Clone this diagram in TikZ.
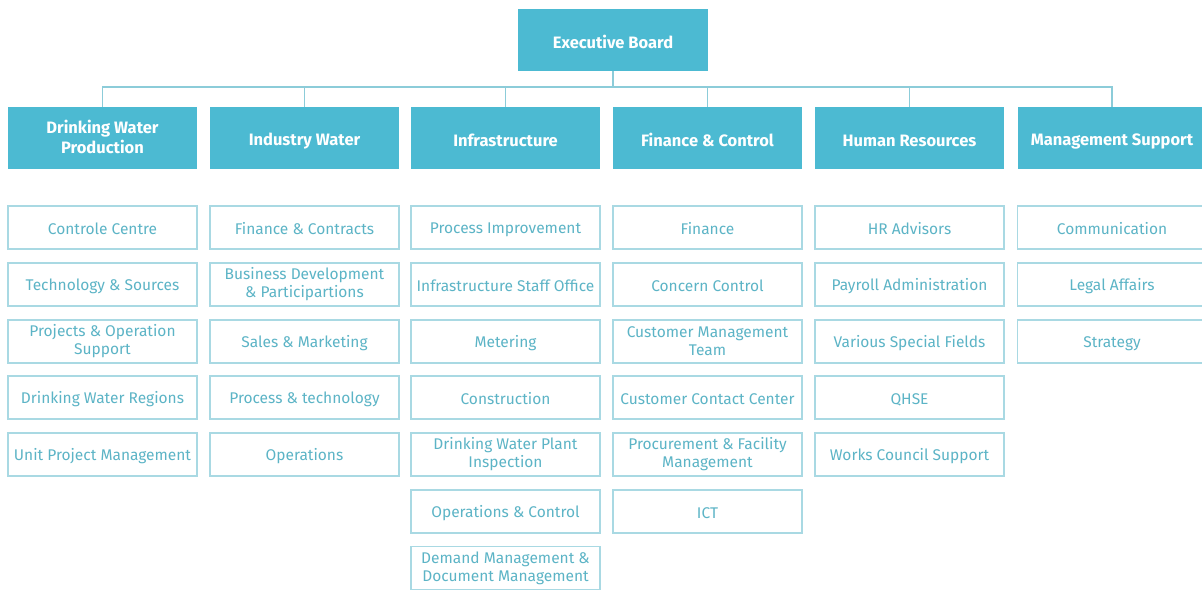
\documentclass[tikz,border=0pt]{standalone}
\usepackage{fontspec}
\setmainfont{Fira Sans}
\definecolor{headfill}{HTML}{4CBAD2}
\definecolor{subtext}{HTML}{5CB4C6}
\definecolor{subline}{HTML}{A9D9E3}
\definecolor{conn}{HTML}{8CCCD9}
% struts that keep every label at the same optical height
\newcommand\topstrut{\rule{0pt}{0.9\baselineskip}}
\newcommand\botstrut{\rule[-0.1\baselineskip]{0pt}{0.1\baselineskip}}
\tikzset{
  boxtext/.style={execute at begin node=\topstrut, execute at end node=\botstrut},
  headbox/.style={boxtext, fill=headfill, draw=none, minimum width=189pt, minimum height=62pt,
    inner sep=0pt, text=white, align=center,
    font=\fontsize{16.5}{20}\selectfont\bfseries},
  unitbox/.style={boxtext, draw=subline, line width=1.2pt, fill=white, minimum width=189pt,
    minimum height=43pt, inner sep=0pt, text=subtext, align=center,
    font=\fontsize{15.5}{18}\selectfont},
  link/.style={draw=conn, line width=1.3pt}
}
\begin{document}
\begin{tikzpicture}[x=1pt,y=-1pt]
\useasboundingbox (0,0) rectangle (1202,592);
\clip (0,0) rectangle (1202,592);
\fill[white] (0,0) rectangle (1202,592);

% top of the tree
\node[headbox, minimum width=190pt] (exec) at (613,40) {Executive Board};

% departments
\node[headbox] (d1) at (102.5,138) {Drinking Water\\Production};
\node[headbox] (d2) at (304.5,138) {Industry Water};
\node[headbox] (d3) at (505.5,138) {Infrastructure};
\node[headbox] (d4) at (707.5,138) {Finance \& Control};
\node[headbox] (d5) at (909.5,138) {Human Resources};
\node[headbox] (d6) at (1112,138) {Management Support};

% connectors
\coordinate (bus) at (613,87);
\draw[link] (exec.south) -- (bus);
\draw[link] (d1.north) |- (bus) -| (d6.north);
\foreach \d in {d2,d3,d4,d5}
  \draw[link] (\d.north) -- (\d.north |- bus);

% units, rows at fixed vertical steps
\def\rowA{227.5}\def\rowB{284.5}\def\rowC{341.5}\def\rowD{397.5}
\def\rowE{454.5}\def\rowF{511.5}\def\rowG{568}

\node[unitbox] (a1) at (102.5,\rowA) {Controle Centre};
\node[unitbox] (a2) at (102.5,\rowB) {Technology \& Sources};
\node[unitbox] (a3) at (102.5,\rowC) {Projects \& Operation\\Support};
\node[unitbox] (a4) at (102.5,\rowD) {Drinking Water Regions};
\node[unitbox] (a5) at (102.5,\rowE) {Unit Project Management};

\node[unitbox] (b1) at (304.5,\rowA) {Finance \& Contracts};
\node[unitbox] (b2) at (304.5,\rowB) {Business Development\\\& Participartions};
\node[unitbox] (b3) at (304.5,\rowC) {Sales \& Marketing};
\node[unitbox] (b4) at (304.5,\rowD) {Process \& technology};
\node[unitbox] (b5) at (304.5,\rowE) {Operations};

\node[unitbox] (c1) at (505.5,\rowA) {Process Improvement};
\node[unitbox] (c2) at (505.5,\rowB) {Infrastructure Staff Office};
\node[unitbox] (c3) at (505.5,\rowC) {Metering};
\node[unitbox] (c4) at (505.5,\rowD) {Construction};
\node[unitbox] (c5) at (505.5,\rowE) {Drinking Water Plant\\Inspection};
\node[unitbox] (c6) at (505.5,\rowF) {Operations \& Control};
\node[unitbox] (c7) at (505.5,\rowG) {Demand Management \&\\Document Management};

\node[unitbox] (e1) at (707.5,\rowA) {Finance};
\node[unitbox] (e2) at (707.5,\rowB) {Concern Control};
\node[unitbox] (e3) at (707.5,\rowC) {Customer Management\\Team};
\node[unitbox] (e4) at (707.5,\rowD) {Customer Contact Center};
\node[unitbox] (e5) at (707.5,\rowE) {Procurement \& Facility\\Management};
\node[unitbox] (e6) at (707.5,\rowF) {ICT};

\node[unitbox] (f1) at (909.5,\rowA) {HR Advisors};
\node[unitbox] (f2) at (909.5,\rowB) {Payroll Administration};
\node[unitbox] (f3) at (909.5,\rowC) {Various Special Fields};
\node[unitbox] (f4) at (909.5,\rowD) {QHSE};
\node[unitbox] (f5) at (909.5,\rowE) {Works Council Support};

\node[unitbox] (g1) at (1112,\rowA) {Communication};
\node[unitbox] (g2) at (1112,\rowB) {Legal Affairs};
\node[unitbox] (g3) at (1112,\rowC) {Strategy};
\end{tikzpicture}
\end{document}
